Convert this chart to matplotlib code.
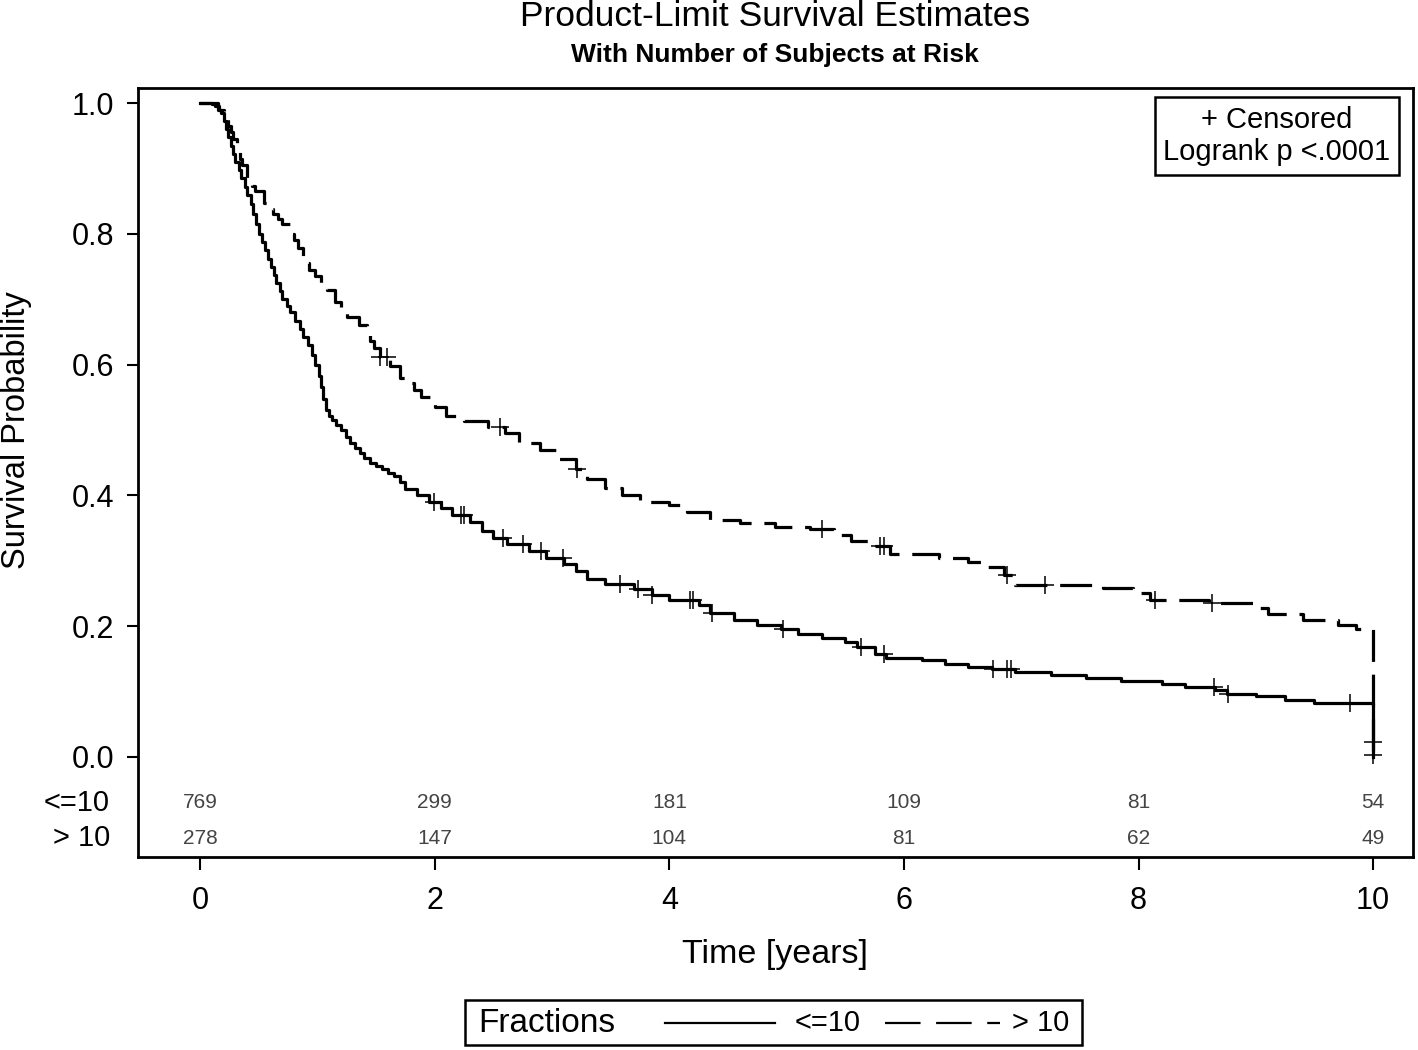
import numpy as np
import matplotlib
matplotlib.use("Agg")
import matplotlib.pyplot as plt
from matplotlib.lines import Line2D
from matplotlib.patches import Rectangle

plt.rcParams['font.family'] = ['Liberation Sans', 'DejaVu Sans']

# ---------------- data ----------------
le10_time = [0.0, 0.10, 0.13, 0.16, 0.18, 0.20, 0.22, 0.24, 0.26, 0.28, 0.30, 0.33, 0.35, 0.38,
             0.40, 0.43, 0.45, 0.48, 0.50, 0.53, 0.55, 0.58, 0.60, 0.63, 0.65, 0.68, 0.70, 0.74,
             0.77, 0.81, 0.85, 0.88, 0.92, 0.95, 0.98, 1.01, 1.03, 1.05, 1.07, 1.10, 1.12, 1.16,
             1.20, 1.24, 1.28, 1.32, 1.36, 1.40, 1.45, 1.50, 1.55, 1.60, 1.65, 1.70, 1.75,
             1.85, 1.95, 2.05, 2.15, 2.30, 2.40, 2.50, 2.62, 2.80, 2.95, 3.10, 3.20, 3.30, 3.45,
             3.70, 3.85, 4.00, 4.25, 4.35, 4.55, 4.75, 4.95, 5.10, 5.30, 5.50, 5.60, 5.75, 5.85,
             6.15, 6.35, 6.55, 6.75, 6.95, 7.25, 7.55, 7.85, 8.20, 8.40, 8.65, 8.75, 9.00, 9.25,
             9.50, 10.0]
le10_surv = [1.0, 0.998, 0.995, 0.99, 0.985, 0.973, 0.96, 0.948, 0.935, 0.922, 0.91, 0.897, 0.885, 0.872,
             0.86, 0.845, 0.83, 0.815, 0.80, 0.788, 0.775, 0.762, 0.75, 0.737, 0.725, 0.712, 0.70, 0.69,
             0.68, 0.667, 0.655, 0.642, 0.63, 0.615, 0.60, 0.582, 0.565, 0.547, 0.53, 0.522, 0.515, 0.507,
             0.50, 0.49, 0.48, 0.472, 0.465, 0.457, 0.45, 0.445, 0.44, 0.435, 0.43, 0.42, 0.41,
             0.40, 0.39, 0.38, 0.37, 0.36, 0.345, 0.335, 0.325, 0.315, 0.305, 0.295, 0.285, 0.272, 0.265,
             0.257, 0.248, 0.24, 0.232, 0.22, 0.21, 0.202, 0.195, 0.188, 0.182, 0.176, 0.168, 0.158, 0.152,
             0.148, 0.142, 0.138, 0.134, 0.13, 0.125, 0.12, 0.116, 0.112, 0.107, 0.102, 0.096, 0.093, 0.087,
             0.083, 0.0]
le10_cens = [1.99, 2.22, 2.25, 2.58, 2.75, 2.91, 3.09, 3.58, 3.73, 3.85, 4.18, 4.20, 4.36, 4.97,
             5.63, 5.83, 6.76, 6.88, 6.91, 8.64, 8.76, 9.80]
le10_cens_end_t = [10.0, 10.0]
le10_cens_end_s = [0.023, 0.003]

gt10_time = [0.0, 0.15, 0.20, 0.24, 0.26, 0.28, 0.31, 0.34, 0.36, 0.40, 0.44, 0.47, 0.54, 0.58, 0.62,
             0.66, 0.70, 0.77, 0.80, 0.83, 0.88, 0.93, 0.98, 1.03, 1.08, 1.15, 1.20, 1.25, 1.35,
             1.42, 1.45, 1.48, 1.53, 1.62, 1.70, 1.76, 1.82, 1.88, 2.00,
             2.10, 2.25, 2.45, 2.60, 2.72, 2.90, 3.05, 3.20, 3.30, 3.45, 3.60, 3.75, 4.00, 4.15,
             4.35, 4.60, 4.90, 5.20, 5.40, 5.55, 5.70, 5.88, 6.30, 6.55, 6.70, 6.85, 6.95, 7.70,
             7.95, 8.10, 8.60, 9.00, 9.10, 9.40, 9.70, 9.85, 10.0]
gt10_surv = [1.0, 0.99, 0.975, 0.965, 0.955, 0.945, 0.928, 0.915, 0.905, 0.882, 0.873, 0.865, 0.847, 0.838, 0.83,
             0.822, 0.815, 0.80, 0.79, 0.778, 0.755, 0.745, 0.735, 0.725, 0.714, 0.695, 0.684, 0.673, 0.66,
             0.648, 0.636, 0.625, 0.612, 0.598, 0.58, 0.572, 0.561, 0.55, 0.535,
             0.522, 0.513, 0.505, 0.495, 0.48, 0.47, 0.455, 0.44, 0.425, 0.412, 0.40, 0.39, 0.385, 0.375,
             0.362, 0.358, 0.352, 0.348, 0.34, 0.33, 0.322, 0.31, 0.305, 0.298, 0.29, 0.278, 0.263, 0.258,
             0.25, 0.24, 0.235, 0.228, 0.218, 0.21, 0.202, 0.196, 0.0]
gt10_cens = [1.53, 1.59, 2.56, 3.21, 5.30, 5.80, 5.83, 6.88, 7.20, 8.14, 8.63]

risk_times = [0, 2, 4, 6, 8, 10]
risk_le10 = [769, 299, 181, 109, 81, 54]
risk_gt10 = [278, 147, 104, 81, 62, 49]
group_labels = ["<=10", "> 10"]
x_ticks = [0, 2, 4, 6, 8, 10]
y_ticks = [0.0, 0.2, 0.4, 0.6, 0.8, 1.0]


def step_value(times, surv, t):
    idx = np.searchsorted(np.asarray(times), t, side='right') - 1
    return np.asarray(surv)[idx]


# ---------------- figure ----------------
fig = plt.figure(figsize=(14.18, 10.5), dpi=100)
ax = fig.add_axes([138/1418, 1-857/1050, (1413-138)/1418, (857-88)/1050])

lw = 2.3
ax.step(le10_time, le10_surv, where='post', color='black', lw=lw)
ax.step(gt10_time, gt10_surv, where='post', color='black', lw=lw, linestyle=(0, (10, 4)))

ax.plot(le10_cens, step_value(le10_time, le10_surv, le10_cens), '+', color='black', ms=13, mew=1.1)
ax.plot(le10_cens_end_t, le10_cens_end_s, '+', color='black', ms=13, mew=1.1)
ax.plot(gt10_cens, step_value(gt10_time, gt10_surv, gt10_cens), '+', color='black', ms=13, mew=1.1)

ax.set_xlim(-0.53, 10.34)
ax.set_ylim(-0.153, 1.023)

# at-risk table inside the frame
risk_font = ['Liberation Sans Narrow', 'Liberation Sans', 'DejaVu Sans']
for t, a, b in zip(risk_times, risk_le10, risk_gt10):
    ax.text(t, -0.070, str(a), ha='center', va='center', fontsize=15, color='#444444', family=risk_font)
    ax.text(t, -0.124, str(b), ha='center', va='center', fontsize=15, color='#444444', family=risk_font)
ax.text(-0.022, -0.070, group_labels[0], transform=ax.get_yaxis_transform(), ha='right', va='center', fontsize=21)
ax.text(-0.022, -0.124, group_labels[1], transform=ax.get_yaxis_transform(), ha='right', va='center', fontsize=21)

ax.set_yticks(y_ticks)
ax.set_yticklabels([f"{v:.1f}" for v in y_ticks])
ax.set_xticks(x_ticks)
ax.set_xticklabels([str(v) for v in x_ticks])
ax.tick_params(axis='y', direction='out', length=8, width=1.5, labelsize=22, pad=9)
ax.tick_params(axis='x', direction='out', length=9, width=1.5, labelsize=22, pad=12)

for s in ax.spines.values():
    s.set_linewidth(2.0)

# censor / logrank box
ax.text(0.8933, 0.9376, "+ Censored\nLogrank p <.0001", transform=ax.transAxes,
        ha='center', va='center', fontsize=21, linespacing=1.2,
        bbox=dict(boxstyle='square,pad=0.3', facecolor='white', edgecolor='black', linewidth=1.8))

# titles and labels
fig.text(775/1418, 1-17/1050, "Product-Limit Survival Estimates", ha='center', va='center', fontsize=25.5)
fig.text(775/1418, 1-55/1050, "With Number of Subjects at Risk", ha='center', va='center', fontsize=19,
         fontweight='bold')
fig.text(17/1418, 1-430/1050, "Survival Probability", ha='center', va='center', rotation=90, fontsize=23.5)
fig.text(775/1418, 1-955/1050, "Time [years]", ha='center', va='center', fontsize=24.5)

# legend box at bottom
fig.patches.append(Rectangle((465/1418, 1-1045/1050), (1082-465)/1418, 45/1050,
                             transform=fig.transFigure, facecolor='white', edgecolor='black', linewidth=1.8))
ly = 1-1023/1050
fig.text(478/1418, ly, "Fractions", ha='left', va='center', fontsize=24)
fig.lines.append(Line2D([665/1418, 775/1418], [ly, ly], transform=fig.transFigure, color='black', lw=1.6))
fig.text(795/1418, ly, group_labels[0], ha='left', va='center', fontsize=21)
fig.lines.append(Line2D([885/1418, 1000/1418], [ly, ly], transform=fig.transFigure, color='black', lw=1.6,
                        linestyle=(0, (16, 7))))
fig.text(1012/1418, ly, group_labels[1], ha='left', va='center', fontsize=21)

fig.savefig("out.png", dpi=100)
